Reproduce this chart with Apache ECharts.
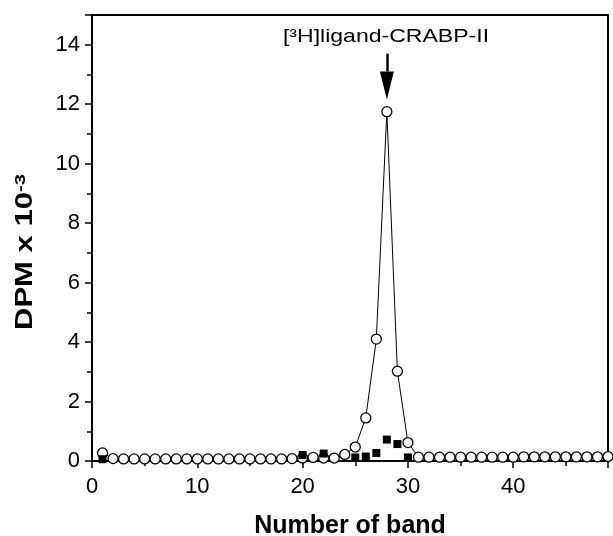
<!doctype html>
<html lang="en">
  <head>
    <meta charset="UTF-8" />
    <title>Document</title>
    <script src="https://cdn.jsdelivr.net/npm/echarts@6/dist/echarts.min.js"></script>
    <style>
      html, body { margin: 0; background: #fff; }
      #chart { width: 613px; height: 536px; }
    </style>
  </head>
  <body>
    <div id="chart"></div>
    <script>
      // band numbers of the open-circle series
      var bands = [1, 2, 3, 4, 5, 6, 7, 8, 9, 10, 11, 12, 13, 14, 15, 16, 17, 18, 19, 20,
        21, 22, 23, 24, 25, 26, 27, 28, 29, 30, 31, 32, 33, 34, 35, 36, 37, 38, 39, 40,
        41, 42, 43, 44, 45, 46, 47, 48, 49];
      // DPM x 10^-3, open circles
      var circleValues = [0.27, 0.08, 0.07, 0.07, 0.07, 0.07, 0.07, 0.07, 0.07, 0.07,
        0.07, 0.07, 0.07, 0.07, 0.07, 0.07, 0.07, 0.07, 0.08, 0.1,
        0.12, 0.1, 0.1, 0.22, 0.47, 1.45, 4.1, 11.75, 3.02, 0.62,
        0.13, 0.13, 0.13, 0.13, 0.13, 0.13, 0.13, 0.13, 0.13, 0.13,
        0.14, 0.14, 0.14, 0.14, 0.14, 0.14, 0.14, 0.14, 0.15];
      // filled squares (only the visible ones)
      var squareBands = [1, 20, 22, 25, 26, 27, 28, 29, 30];
      var squareValues = [0.06, 0.2, 0.25, 0.12, 0.15, 0.27, 0.72, 0.57, 0.12];

      var xTicks = [0, 10, 20, 30, 40];
      var yTicks = [0, 2, 4, 6, 8, 10, 12, 14];

      // arrow pointing at the peak band
      var arrowBand = 28;
      var arrowTop = 13.7, arrowNeck = 13.1, arrowHead = 12.63;

      var font = "'Liberation Sans', Arial, sans-serif";

      var circleData = bands.map(function (b, i) { return [b, circleValues[i]]; });
      var squareData = squareBands.map(function (b, i) { return [b, squareValues[i]]; });

      var chart = echarts.init(document.getElementById('chart'), null, { renderer: 'canvas' });

      chart.setOption({
        animation: false,
        backgroundColor: '#fff',
        grid: {
          left: 92, right: 5, top: 15, bottom: 75,
          outerBoundsMode: 'none',
          containLabel: false,
          show: true, borderColor: '#000', borderWidth: 2, backgroundColor: 'transparent'
        },
        xAxis: {
          type: 'value',
          min: 0, max: 49, interval: 10,
          name: 'Number of band',
          nameLocation: 'middle',
          nameGap: 53,
          nameTextStyle: { fontFamily: font, fontWeight: 'bold', fontSize: 25, color: '#000' },
          axisLine: { show: true, lineStyle: { color: '#000', width: 2 } },
          axisTick: { show: true, length: 7, lineStyle: { color: '#000', width: 1.5 } },
          minorTick: { show: true, splitNumber: 2, length: 5, lineStyle: { color: '#000', width: 1.5 } },
          splitLine: { show: false },
          axisLabel: {
            fontFamily: font, fontSize: 22, color: '#000', margin: 15,
            formatter: function (v) { return xTicks.indexOf(v) >= 0 ? String(v) : ''; }
          }
        },
        yAxis: {
          type: 'value',
          min: 0, max: 15, interval: 2,
          axisLine: { show: true, lineStyle: { color: '#000', width: 2 } },
          axisTick: { show: true, length: 7, lineStyle: { color: '#000', width: 1.5 } },
          minorTick: { show: true, splitNumber: 2, length: 5, lineStyle: { color: '#000', width: 1.5 } },
          splitLine: { show: false },
          axisLabel: {
            fontFamily: font, fontSize: 22, color: '#000', margin: 12,
            formatter: function (v) { return yTicks.indexOf(v) >= 0 ? String(v) : ''; }
          }
        },
        graphic: [
          {
            type: 'text',
            x: 386,
            y: 37,
            scaleX: 1.28,
            style: {
              text: '[³H]ligand-CRABP-II',
              font: '18px ' + font,
              fill: '#000',
              align: 'center',
              verticalAlign: 'middle'
            }
          },
          {
            type: 'text',
            x: 26,
            y: 252,
            rotation: Math.PI / 2,
            scaleX: 1.35,
            style: {
              text: '{a|DPM x 10}{s|-3}',
              align: 'center',
              verticalAlign: 'middle',
              rich: {
                a: { fontFamily: font, fontWeight: 'bold', fontSize: 23, fill: '#000', color: '#000', lineHeight: 26 },
                s: { fontFamily: font, fontWeight: 'bold', fontSize: 15, fill: '#000', color: '#000', lineHeight: 15, padding: [0, 0, 11, 0] }
              }
            }
          }
        ],
        series: [
          {
            type: 'line',
            data: circleData,
            symbol: 'circle',
            symbolSize: 10,
            showSymbol: true,
            z: 2,
            lineStyle: { color: '#000', width: 1 },
            itemStyle: { color: '#fff', borderColor: '#000', borderWidth: 1.3 },
            markLine: {
              silent: true,
              symbol: ['none', 'none'],
              label: { show: false },
              lineStyle: { color: '#000', width: 2.5, type: 'solid' },
              data: [[{ coord: [arrowBand, arrowTop] }, { coord: [arrowBand, arrowNeck] }]]
            },
            markPoint: {
              silent: true,
              symbol: 'triangle',
              symbolRotate: 180,
              symbolSize: [14, 28],
              label: { show: false },
              itemStyle: { color: '#000' },
              data: [{ coord: [arrowBand, arrowHead] }]
            }
          },
          {
            type: 'scatter',
            data: squareData,
            symbol: 'rect',
            symbolSize: 8,
            z: 3,
            itemStyle: { color: '#000', opacity: 1 }
          }
        ]
      });
    </script>
  </body>
</html>
